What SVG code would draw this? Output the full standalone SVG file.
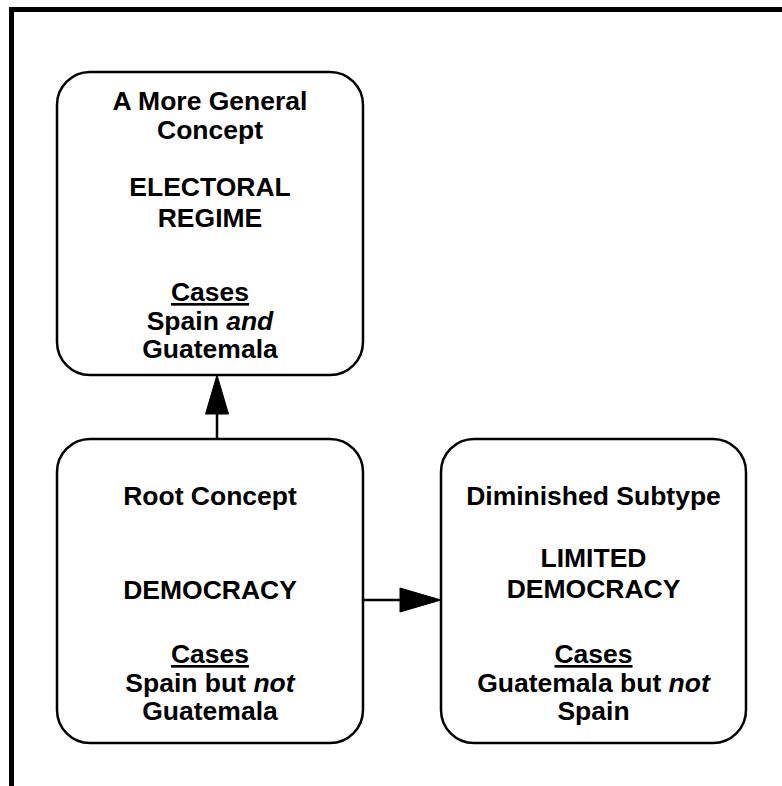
<svg xmlns="http://www.w3.org/2000/svg" width="782" height="786" viewBox="0 0 782 786">
<style>
.box{fill:#fff;stroke:#000;stroke-width:2.5}
.t{font-family:"Liberation Sans",Arial,sans-serif;font-weight:bold;font-size:26.5px;text-anchor:middle;fill:#000}
.u{text-decoration:underline}
.i{font-style:italic}
.ln{stroke:#000;stroke-width:2.5;fill:none}
.ah{fill:#000;stroke:#000;stroke-width:1}
</style>
<rect x="0" y="0" width="782" height="786" fill="#fff"/>
<path d="M11.5,786 V9.5 H782" fill="none" stroke="#000" stroke-width="5"/>
<g id="connectors">
<line class="ln" x1="217" y1="439" x2="217" y2="410"/>
<polygon class="ah" points="217,375 205.5,414 228.5,414"/>
<line class="ln" x1="363" y1="600" x2="404" y2="600"/>
<polygon class="ah" points="441,600 400,588 400,612"/>
</g>
<g id="general">
<rect class="box" x="57" y="72" width="306" height="303" rx="33" ry="33"/>
<text class="t" x="210" y="110">A More General</text>
<text class="t" x="210" y="139">Concept</text>
<text class="t" x="210" y="196">ELECTORAL</text>
<text class="t" x="210" y="227">REGIME</text>
<text class="t u" x="210" y="301">Cases</text>
<text class="t" x="210" y="330">Spain <tspan class="i">and</tspan></text>
<text class="t" x="210" y="358">Guatemala</text>
</g>
<g id="root">
<rect class="box" x="57" y="439" width="306" height="304" rx="33" ry="33"/>
<text class="t" x="210" y="505">Root Concept</text>
<text class="t" x="210" y="599">DEMOCRACY</text>
<text class="t u" x="210" y="663">Cases</text>
<text class="t" x="210" y="692">Spain but <tspan class="i">not</tspan></text>
<text class="t" x="210" y="720">Guatemala</text>
</g>
<g id="subtype">
<rect class="box" x="441" y="439" width="305" height="304" rx="33" ry="33"/>
<text class="t" x="593.5" y="505">Diminished Subtype</text>
<text class="t" x="593.5" y="567">LIMITED</text>
<text class="t" x="593.5" y="598">DEMOCRACY</text>
<text class="t u" x="593.5" y="663">Cases</text>
<text class="t" x="593.5" y="692">Guatemala but <tspan class="i">not</tspan></text>
<text class="t" x="593.5" y="720">Spain</text>
</g>
</svg>
